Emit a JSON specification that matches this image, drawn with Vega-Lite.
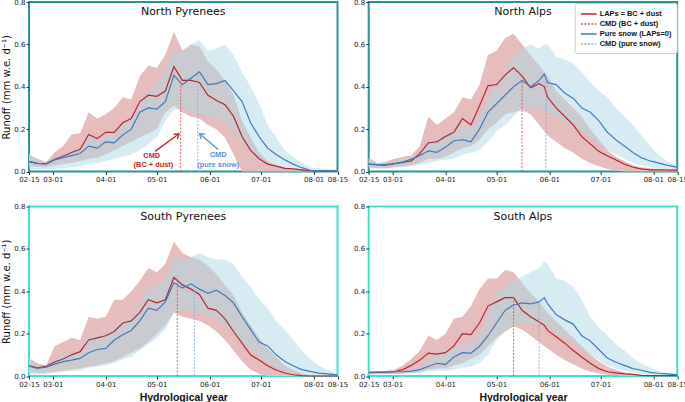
{
  "$schema": "https://vega.github.io/schema/vega-lite/v6.json",
  "background": "white",
  "padding": {"left": 0, "top": -3, "right": 0, "bottom": 0},
  "config": {
    "font": "DejaVu Sans",
    "axis": {"domain": false, "grid": false, "tickSize": 3, "tickColor": "#333", "labelColor": "#222", "labelFontSize": 7, "labelPadding": 1, "labelOverlap": false, "labelFlush": false, "labelBound": false, "titleFontWeight": "normal", "titleColor": "#111"},
    "axisX": {"titleFont": "Liberation Sans", "titleFontWeight": "bold", "titleFontSize": 10.5, "titlePadding": 5},
    "axisY": {"titleFontSize": 10, "titlePadding": 2},
    "legend": {"orient": "top-right", "offset": 1, "title": null, "fillColor": "white", "strokeColor": "#cccccc", "cornerRadius": 2, "padding": 5, "labelFont": "Liberation Sans", "labelFontWeight": "bold", "labelFontSize": 7.4, "labelColor": "#111", "symbolType": "M-1.5,0L1.5,0", "symbolSize": 110, "symbolStrokeWidth": 1.5, "symbolOffset": 3, "labelOffset": 5, "rowPadding": 0},
    "title": {"fontSize": 11, "fontWeight": "normal", "anchor": "middle", "color": "#111", "offset": -19}
  },
  "datasets": {
    "NP": [
      {"d":"2021-02-15","r":0.047,"b":0.047,"rl":0.025,"rh":0.08,"bl":0.01,"bh":0.075},
      {"d":"2021-02-20","r":0.038,"b":0.038,"rl":0.022,"rh":0.06,"bl":0.01,"bh":0.05},
      {"d":"2021-02-25","r":0.037,"b":0.035,"rl":0.02,"rh":0.045,"bl":0.01,"bh":0.04},
      {"d":"2021-03-02","r":0.058,"b":0.055,"rl":0.03,"rh":0.09,"bl":0.012,"bh":0.07},
      {"d":"2021-03-07","r":0.072,"b":0.065,"rl":0.035,"rh":0.12,"bl":0.015,"bh":0.08},
      {"d":"2021-03-12","r":0.09,"b":0.075,"rl":0.04,"rh":0.175,"bl":0.02,"bh":0.1},
      {"d":"2021-03-17","r":0.105,"b":0.085,"rl":0.05,"rh":0.18,"bl":0.025,"bh":0.11},
      {"d":"2021-03-22","r":0.175,"b":0.12,"rl":0.06,"rh":0.28,"bl":0.035,"bh":0.17},
      {"d":"2021-03-27","r":0.155,"b":0.11,"rl":0.065,"rh":0.25,"bl":0.04,"bh":0.15},
      {"d":"2021-04-01","r":0.185,"b":0.14,"rl":0.08,"rh":0.27,"bl":0.05,"bh":0.17},
      {"d":"2021-04-06","r":0.185,"b":0.135,"rl":0.1,"rh":0.3,"bl":0.06,"bh":0.2},
      {"d":"2021-04-11","r":0.23,"b":0.172,"rl":0.12,"rh":0.35,"bl":0.07,"bh":0.22},
      {"d":"2021-04-16","r":0.25,"b":0.2,"rl":0.14,"rh":0.34,"bl":0.08,"bh":0.25},
      {"d":"2021-04-21","r":0.33,"b":0.28,"rl":0.16,"rh":0.45,"bl":0.1,"bh":0.32},
      {"d":"2021-04-26","r":0.36,"b":0.3,"rl":0.18,"rh":0.5,"bl":0.13,"bh":0.38},
      {"d":"2021-05-01","r":0.355,"b":0.295,"rl":0.2,"rh":0.49,"bl":0.16,"bh":0.42},
      {"d":"2021-05-06","r":0.38,"b":0.33,"rl":0.28,"rh":0.55,"bl":0.24,"bh":0.48},
      {"d":"2021-05-11","r":0.495,"b":0.455,"rl":0.31,"rh":0.66,"bl":0.29,"bh":0.58},
      {"d":"2021-05-16","r":0.43,"b":0.41,"rl":0.28,"rh":0.57,"bl":0.3,"bh":0.56},
      {"d":"2021-05-21","r":0.43,"b":0.44,"rl":0.26,"rh":0.6,"bl":0.28,"bh":0.6},
      {"d":"2021-05-26","r":0.42,"b":0.47,"rl":0.25,"rh":0.59,"bl":0.27,"bh":0.62},
      {"d":"2021-05-31","r":0.36,"b":0.41,"rl":0.22,"rh":0.52,"bl":0.26,"bh":0.57},
      {"d":"2021-06-05","r":0.335,"b":0.415,"rl":0.2,"rh":0.48,"bl":0.25,"bh":0.58},
      {"d":"2021-06-10","r":0.315,"b":0.43,"rl":0.16,"rh":0.43,"bl":0.23,"bh":0.6},
      {"d":"2021-06-15","r":0.26,"b":0.38,"rl":0.08,"rh":0.36,"bl":0.19,"bh":0.55},
      {"d":"2021-06-20","r":0.165,"b":0.33,"rl":0,"rh":0.24,"bl":0.14,"bh":0.47},
      {"d":"2021-06-25","r":0.1,"b":0.23,"rl":0,"rh":0.16,"bl":0.09,"bh":0.4},
      {"d":"2021-06-30","r":0.06,"b":0.165,"rl":0,"rh":0.09,"bl":0.05,"bh":0.32},
      {"d":"2021-07-05","r":0.035,"b":0.11,"rl":0,"rh":0.05,"bl":0.03,"bh":0.22},
      {"d":"2021-07-10","r":0.025,"b":0.08,"rl":0,"rh":0.03,"bl":0.015,"bh":0.16},
      {"d":"2021-07-15","r":0.015,"b":0.055,"rl":0,"rh":0.02,"bl":0.008,"bh":0.1},
      {"d":"2021-07-20","r":0.012,"b":0.035,"rl":0,"rh":0.015,"bl":0.004,"bh":0.07},
      {"d":"2021-07-25","r":0.008,"b":0.018,"rl":0,"rh":0.01,"bl":0.002,"bh":0.04},
      {"d":"2021-07-30","r":0.003,"b":0.006,"rl":0,"rh":0.005,"bl":0,"bh":0.02},
      {"d":"2021-08-04","r":0.002,"b":0.003,"rl":0,"rh":0.004,"bl":0,"bh":0.015},
      {"d":"2021-08-09","r":0.002,"b":0.003,"rl":0,"rh":0.004,"bl":0,"bh":0.012},
      {"d":"2021-08-15","r":0.002,"b":0.003,"rl":0,"rh":0.004,"bl":0,"bh":0.01}
    ],
    "NA": [
      {"d":"2021-02-15","r":0.035,"b":0.035,"rl":0.02,"rh":0.065,"bl":0.015,"bh":0.06},
      {"d":"2021-02-20","r":0.031,"b":0.033,"rl":0.015,"rh":0.04,"bl":0.015,"bh":0.04},
      {"d":"2021-02-25","r":0.03,"b":0.033,"rl":0.015,"rh":0.045,"bl":0.015,"bh":0.04},
      {"d":"2021-03-02","r":0.037,"b":0.037,"rl":0.02,"rh":0.06,"bl":0.018,"bh":0.05},
      {"d":"2021-03-07","r":0.043,"b":0.045,"rl":0.025,"rh":0.07,"bl":0.02,"bh":0.06},
      {"d":"2021-03-12","r":0.05,"b":0.058,"rl":0.03,"rh":0.075,"bl":0.025,"bh":0.07},
      {"d":"2021-03-17","r":0.085,"b":0.075,"rl":0.04,"rh":0.12,"bl":0.03,"bh":0.09},
      {"d":"2021-03-22","r":0.135,"b":0.097,"rl":0.06,"rh":0.26,"bl":0.04,"bh":0.15},
      {"d":"2021-03-27","r":0.14,"b":0.09,"rl":0.06,"rh":0.22,"bl":0.05,"bh":0.16},
      {"d":"2021-04-01","r":0.165,"b":0.115,"rl":0.07,"rh":0.25,"bl":0.055,"bh":0.17},
      {"d":"2021-04-06","r":0.185,"b":0.145,"rl":0.09,"rh":0.28,"bl":0.06,"bh":0.2},
      {"d":"2021-04-11","r":0.25,"b":0.15,"rl":0.11,"rh":0.35,"bl":0.08,"bh":0.22},
      {"d":"2021-04-16","r":0.22,"b":0.14,"rl":0.12,"rh":0.34,"bl":0.09,"bh":0.21},
      {"d":"2021-04-21","r":0.31,"b":0.2,"rl":0.15,"rh":0.41,"bl":0.1,"bh":0.26},
      {"d":"2021-04-26","r":0.405,"b":0.28,"rl":0.2,"rh":0.55,"bl":0.14,"bh":0.35},
      {"d":"2021-05-01","r":0.41,"b":0.32,"rl":0.23,"rh":0.57,"bl":0.19,"bh":0.42},
      {"d":"2021-05-06","r":0.455,"b":0.36,"rl":0.27,"rh":0.63,"bl":0.22,"bh":0.47},
      {"d":"2021-05-11","r":0.49,"b":0.4,"rl":0.28,"rh":0.65,"bl":0.26,"bh":0.55},
      {"d":"2021-05-16","r":0.45,"b":0.43,"rl":0.29,"rh":0.6,"bl":0.3,"bh":0.58},
      {"d":"2021-05-21","r":0.395,"b":0.4,"rl":0.27,"rh":0.55,"bl":0.29,"bh":0.6},
      {"d":"2021-05-26","r":0.415,"b":0.43,"rl":0.22,"rh":0.5,"bl":0.3,"bh":0.58},
      {"d":"2021-05-29","r":0.4,"b":0.46,"rl":0.19,"rh":0.47,"bl":0.29,"bh":0.6},
      {"d":"2021-05-31","r":0.35,"b":0.42,"rl":0.17,"rh":0.45,"bl":0.28,"bh":0.6},
      {"d":"2021-06-05","r":0.3,"b":0.41,"rl":0.14,"rh":0.38,"bl":0.26,"bh":0.54},
      {"d":"2021-06-10","r":0.26,"b":0.37,"rl":0.11,"rh":0.34,"bl":0.24,"bh":0.53},
      {"d":"2021-06-15","r":0.22,"b":0.345,"rl":0.09,"rh":0.3,"bl":0.21,"bh":0.51},
      {"d":"2021-06-20","r":0.165,"b":0.3,"rl":0.06,"rh":0.26,"bl":0.19,"bh":0.47},
      {"d":"2021-06-25","r":0.13,"b":0.28,"rl":0.04,"rh":0.2,"bl":0.16,"bh":0.42},
      {"d":"2021-06-30","r":0.095,"b":0.24,"rl":0.025,"rh":0.15,"bl":0.13,"bh":0.38},
      {"d":"2021-07-05","r":0.074,"b":0.185,"rl":0.012,"rh":0.1,"bl":0.1,"bh":0.35},
      {"d":"2021-07-10","r":0.055,"b":0.15,"rl":0.005,"rh":0.07,"bl":0.08,"bh":0.3},
      {"d":"2021-07-15","r":0.035,"b":0.12,"rl":0,"rh":0.05,"bl":0.06,"bh":0.26},
      {"d":"2021-07-20","r":0.02,"b":0.09,"rl":0,"rh":0.03,"bl":0.04,"bh":0.22},
      {"d":"2021-07-25","r":0.012,"b":0.065,"rl":0,"rh":0.02,"bl":0.03,"bh":0.17},
      {"d":"2021-07-30","r":0.008,"b":0.05,"rl":0,"rh":0.015,"bl":0.02,"bh":0.12},
      {"d":"2021-08-04","r":0.008,"b":0.04,"rl":0,"rh":0.01,"bl":0.012,"bh":0.08},
      {"d":"2021-08-09","r":0.007,"b":0.03,"rl":0,"rh":0.01,"bl":0.008,"bh":0.05},
      {"d":"2021-08-15","r":0.006,"b":0.02,"rl":0,"rh":0.01,"bl":0.006,"bh":0.03}
    ],
    "SP": [
      {"d":"2021-02-15","r":0.048,"b":0.048,"rl":0.02,"rh":0.085,"bl":0.01,"bh":0.08},
      {"d":"2021-02-20","r":0.038,"b":0.036,"rl":0.015,"rh":0.06,"bl":0.008,"bh":0.05},
      {"d":"2021-02-25","r":0.045,"b":0.042,"rl":0.015,"rh":0.05,"bl":0.01,"bh":0.045},
      {"d":"2021-03-02","r":0.066,"b":0.056,"rl":0.02,"rh":0.14,"bl":0.015,"bh":0.08},
      {"d":"2021-03-07","r":0.08,"b":0.068,"rl":0.025,"rh":0.16,"bl":0.02,"bh":0.1},
      {"d":"2021-03-12","r":0.1,"b":0.075,"rl":0.03,"rh":0.18,"bl":0.022,"bh":0.11},
      {"d":"2021-03-17","r":0.115,"b":0.083,"rl":0.035,"rh":0.17,"bl":0.025,"bh":0.12},
      {"d":"2021-03-22","r":0.17,"b":0.11,"rl":0.045,"rh":0.28,"bl":0.04,"bh":0.2},
      {"d":"2021-03-27","r":0.18,"b":0.125,"rl":0.05,"rh":0.27,"bl":0.045,"bh":0.19},
      {"d":"2021-04-01","r":0.19,"b":0.13,"rl":0.06,"rh":0.28,"bl":0.05,"bh":0.2},
      {"d":"2021-04-06","r":0.21,"b":0.17,"rl":0.07,"rh":0.36,"bl":0.06,"bh":0.23},
      {"d":"2021-04-11","r":0.25,"b":0.195,"rl":0.09,"rh":0.36,"bl":0.08,"bh":0.27},
      {"d":"2021-04-16","r":0.26,"b":0.215,"rl":0.11,"rh":0.4,"bl":0.09,"bh":0.27},
      {"d":"2021-04-21","r":0.3,"b":0.26,"rl":0.13,"rh":0.45,"bl":0.12,"bh":0.34},
      {"d":"2021-04-26","r":0.36,"b":0.32,"rl":0.16,"rh":0.51,"bl":0.15,"bh":0.42},
      {"d":"2021-05-01","r":0.345,"b":0.31,"rl":0.2,"rh":0.49,"bl":0.18,"bh":0.43},
      {"d":"2021-05-06","r":0.36,"b":0.35,"rl":0.24,"rh":0.53,"bl":0.22,"bh":0.46},
      {"d":"2021-05-11","r":0.465,"b":0.44,"rl":0.3,"rh":0.635,"bl":0.3,"bh":0.57},
      {"d":"2021-05-16","r":0.43,"b":0.415,"rl":0.28,"rh":0.58,"bl":0.31,"bh":0.55},
      {"d":"2021-05-21","r":0.41,"b":0.435,"rl":0.27,"rh":0.56,"bl":0.31,"bh":0.56},
      {"d":"2021-05-26","r":0.385,"b":0.41,"rl":0.26,"rh":0.55,"bl":0.3,"bh":0.58},
      {"d":"2021-05-31","r":0.32,"b":0.39,"rl":0.24,"rh":0.52,"bl":0.29,"bh":0.56},
      {"d":"2021-06-05","r":0.31,"b":0.405,"rl":0.21,"rh":0.48,"bl":0.27,"bh":0.55},
      {"d":"2021-06-10","r":0.27,"b":0.38,"rl":0.17,"rh":0.43,"bl":0.24,"bh":0.55},
      {"d":"2021-06-15","r":0.21,"b":0.345,"rl":0.12,"rh":0.38,"bl":0.2,"bh":0.53},
      {"d":"2021-06-20","r":0.155,"b":0.28,"rl":0.07,"rh":0.3,"bl":0.16,"bh":0.47},
      {"d":"2021-06-25","r":0.1,"b":0.22,"rl":0.03,"rh":0.24,"bl":0.12,"bh":0.42},
      {"d":"2021-06-30","r":0.075,"b":0.16,"rl":0.01,"rh":0.18,"bl":0.09,"bh":0.36},
      {"d":"2021-07-05","r":0.048,"b":0.142,"rl":0,"rh":0.13,"bl":0.06,"bh":0.32},
      {"d":"2021-07-10","r":0.028,"b":0.1,"rl":0,"rh":0.09,"bl":0.04,"bh":0.26},
      {"d":"2021-07-15","r":0.014,"b":0.07,"rl":0,"rh":0.05,"bl":0.025,"bh":0.22},
      {"d":"2021-07-20","r":0.006,"b":0.048,"rl":0,"rh":0.03,"bl":0.015,"bh":0.17},
      {"d":"2021-07-25","r":0.002,"b":0.03,"rl":0,"rh":0.012,"bl":0.01,"bh":0.12},
      {"d":"2021-07-30","r":0,"b":0.022,"rl":0,"rh":0.005,"bl":0.005,"bh":0.08},
      {"d":"2021-08-04","r":0,"b":0.014,"rl":0,"rh":0.002,"bl":0.003,"bh":0.05},
      {"d":"2021-08-09","r":0,"b":0.01,"rl":0,"rh":0.001,"bl":0.003,"bh":0.03},
      {"d":"2021-08-15","r":0,"b":0.005,"rl":0,"rh":0,"bl":0.003,"bh":0.01}
    ],
    "SA": [
      {"d":"2021-02-15","r":0.016,"b":0.017,"rl":0.008,"rh":0.02,"bl":0.008,"bh":0.02},
      {"d":"2021-02-20","r":0.017,"b":0.018,"rl":0.008,"rh":0.022,"bl":0.008,"bh":0.02},
      {"d":"2021-02-25","r":0.018,"b":0.018,"rl":0.009,"rh":0.024,"bl":0.008,"bh":0.02},
      {"d":"2021-03-02","r":0.02,"b":0.02,"rl":0.01,"rh":0.03,"bl":0.008,"bh":0.022},
      {"d":"2021-03-07","r":0.03,"b":0.02,"rl":0.012,"rh":0.05,"bl":0.01,"bh":0.025},
      {"d":"2021-03-12","r":0.05,"b":0.023,"rl":0.015,"rh":0.08,"bl":0.012,"bh":0.03},
      {"d":"2021-03-17","r":0.075,"b":0.03,"rl":0.02,"rh":0.12,"bl":0.015,"bh":0.045},
      {"d":"2021-03-22","r":0.108,"b":0.045,"rl":0.03,"rh":0.19,"bl":0.02,"bh":0.08},
      {"d":"2021-03-27","r":0.103,"b":0.06,"rl":0.035,"rh":0.17,"bl":0.025,"bh":0.1},
      {"d":"2021-04-01","r":0.11,"b":0.055,"rl":0.035,"rh":0.2,"bl":0.025,"bh":0.11},
      {"d":"2021-04-06","r":0.142,"b":0.09,"rl":0.05,"rh":0.27,"bl":0.03,"bh":0.14},
      {"d":"2021-04-11","r":0.2,"b":0.11,"rl":0.06,"rh":0.28,"bl":0.04,"bh":0.15},
      {"d":"2021-04-16","r":0.195,"b":0.108,"rl":0.08,"rh":0.33,"bl":0.045,"bh":0.16},
      {"d":"2021-04-21","r":0.25,"b":0.14,"rl":0.1,"rh":0.41,"bl":0.06,"bh":0.2},
      {"d":"2021-04-26","r":0.33,"b":0.19,"rl":0.14,"rh":0.46,"bl":0.1,"bh":0.3},
      {"d":"2021-05-01","r":0.35,"b":0.25,"rl":0.18,"rh":0.46,"bl":0.17,"bh":0.39},
      {"d":"2021-05-06","r":0.37,"b":0.31,"rl":0.21,"rh":0.5,"bl":0.21,"bh":0.43},
      {"d":"2021-05-11","r":0.37,"b":0.335,"rl":0.235,"rh":0.49,"bl":0.24,"bh":0.45},
      {"d":"2021-05-16","r":0.31,"b":0.345,"rl":0.22,"rh":0.44,"bl":0.25,"bh":0.47},
      {"d":"2021-05-21","r":0.28,"b":0.34,"rl":0.19,"rh":0.39,"bl":0.25,"bh":0.49},
      {"d":"2021-05-26","r":0.255,"b":0.35,"rl":0.16,"rh":0.35,"bl":0.24,"bh":0.51},
      {"d":"2021-05-29","r":0.24,"b":0.37,"rl":0.14,"rh":0.32,"bl":0.24,"bh":0.54},
      {"d":"2021-05-31","r":0.215,"b":0.34,"rl":0.13,"rh":0.3,"bl":0.24,"bh":0.53},
      {"d":"2021-06-05","r":0.185,"b":0.29,"rl":0.1,"rh":0.26,"bl":0.2,"bh":0.46},
      {"d":"2021-06-10","r":0.155,"b":0.265,"rl":0.075,"rh":0.22,"bl":0.18,"bh":0.45},
      {"d":"2021-06-15","r":0.12,"b":0.245,"rl":0.055,"rh":0.18,"bl":0.16,"bh":0.42},
      {"d":"2021-06-20","r":0.09,"b":0.19,"rl":0.035,"rh":0.14,"bl":0.13,"bh":0.36},
      {"d":"2021-06-25","r":0.06,"b":0.165,"rl":0.02,"rh":0.1,"bl":0.1,"bh":0.28},
      {"d":"2021-06-30","r":0.035,"b":0.125,"rl":0.012,"rh":0.07,"bl":0.075,"bh":0.23},
      {"d":"2021-07-05","r":0.02,"b":0.085,"rl":0.006,"rh":0.045,"bl":0.05,"bh":0.19},
      {"d":"2021-07-10","r":0.015,"b":0.065,"rl":0.003,"rh":0.03,"bl":0.035,"bh":0.15},
      {"d":"2021-07-15","r":0.01,"b":0.05,"rl":0,"rh":0.018,"bl":0.025,"bh":0.12},
      {"d":"2021-07-20","r":0.008,"b":0.035,"rl":0,"rh":0.01,"bl":0.015,"bh":0.085},
      {"d":"2021-07-25","r":0.003,"b":0.027,"rl":0,"rh":0.005,"bl":0.01,"bh":0.06},
      {"d":"2021-07-30","r":0.002,"b":0.017,"rl":0,"rh":0.003,"bl":0.006,"bh":0.04},
      {"d":"2021-08-04","r":0.002,"b":0.013,"rl":0,"rh":0.003,"bl":0.004,"bh":0.025},
      {"d":"2021-08-09","r":0.002,"b":0.01,"rl":0,"rh":0.003,"bl":0.004,"bh":0.015},
      {"d":"2021-08-15","r":0.002,"b":0.005,"rl":0,"rh":0.003,"bl":0.004,"bh":0.01}
    ],
    "cmdNP": [{"s":"rc","d":"2021-05-15","z":0,"v":0.43},{"s":"bc","d":"2021-05-25","z":0,"v":0.475}],
    "cmdNA": [{"s":"rc","d":"2021-05-16","z":0,"v":0.43},{"s":"bc","d":"2021-05-30","z":0,"v":0.455}],
    "cmdSP": [{"s":"rc","d":"2021-05-13","z":0,"v":0.465},{"s":"bc","d":"2021-05-23","z":0,"v":0.43}],
    "cmdSA": [{"s":"rc","d":"2021-05-11","z":0,"v":0.373},{"s":"bc","d":"2021-05-26","z":0,"v":0.35}],
    "notes": [
      {"s":"red","t":"CMD","d":"2021-04-28","v":0.071},
      {"s":"red","t":"(BC + dust)","d":"2021-04-29","v":0.031},
      {"s":"blue","t":"CMD","d":"2021-06-06","v":0.076},
      {"s":"blue","t":"(pure snow)","d":"2021-06-06","v":0.033}
    ],
    "arrows": [
      {"s":"red","d":"2021-04-30","d2":"2021-05-14","v":0.095,"v2":0.178},
      {"s":"blue","d":"2021-06-06","d2":"2021-05-26","v":0.104,"v2":0.178}
    ]
  },
  "columns": 2,
  "spacing": {"row": 34.5, "column": 30.7},
  "bounds": "flush",
  "resolve": {"scale": {"color": "independent", "strokeDash": "independent"}, "legend": {"color": "independent", "strokeDash": "independent"}},
  "concat": [
    {
      "width": 308.5, "height": 169.5,
      "view": {"stroke": "#2a9494", "strokeWidth": 2},
      "title": {"text": "North Pyrenees"},
      "data": {"name": "NP"},
      "encoding": {"x": {"field": "d", "type": "temporal", "scale": {"type": "utc", "domain": [{"year": 2021, "month": 2, "date": 15, "utc": true}, {"year": 2021, "month": 8, "date": 15, "utc": true}]}, "axis": {"format": "%m-%d", "title": null, "values": [{"year": 2021, "month": 2, "date": 15, "utc": true}, {"year": 2021, "month": 3, "date": 1, "utc": true}, {"year": 2021, "month": 4, "date": 1, "utc": true}, {"year": 2021, "month": 5, "date": 1, "utc": true}, {"year": 2021, "month": 6, "date": 1, "utc": true}, {"year": 2021, "month": 7, "date": 1, "utc": true}, {"year": 2021, "month": 8, "date": 1, "utc": true}, {"year": 2021, "month": 8, "date": 15, "utc": true}]}}},
      "layer": [
        {"mark": {"type": "area", "color": "#e6bcbd"}, "encoding": {"y": {"field": "rl", "type": "quantitative", "scale": {"domain": [0, 0.8]}, "axis": {"values": [0, 0.1, 0.2, 0.3, 0.4, 0.5, 0.6, 0.7, 0.8], "format": ".1f", "title": "Runoff (mm w.e. d⁻¹)"}}, "y2": {"field": "rh"}}},
        {"mark": {"type": "area", "color": "#add8e6", "opacity": 0.5}, "encoding": {"y": {"field": "bl", "type": "quantitative"}, "y2": {"field": "bh"}}},
        {"mark": {"type": "line", "strokeWidth": 1.2, "color": "#b5262b"}, "encoding": {"y": {"field": "r", "type": "quantitative"}}},
        {"mark": {"type": "line", "strokeWidth": 1.2, "color": "#3b7bbf"}, "encoding": {"y": {"field": "b", "type": "quantitative"}}},
        {"data": {"name": "cmdNP"}, "transform": [{"filter": "datum.s === 'rc'"}], "mark": {"type": "rule", "strokeWidth": 0.9, "color": "#d05a5a", "strokeDash": [2, 1.5]}, "encoding": {"x": {"field": "d", "type": "temporal"}, "y": {"field": "z", "type": "quantitative"}, "y2": {"field": "v"}}},
        {"data": {"name": "cmdNP"}, "transform": [{"filter": "datum.s === 'bc'"}], "mark": {"type": "rule", "strokeWidth": 0.9, "color": "#7fb0e0", "strokeDash": [2, 1.5]}, "encoding": {"x": {"field": "d", "type": "temporal"}, "y": {"field": "z", "type": "quantitative"}, "y2": {"field": "v"}}},
        {"data": {"name": "arrows"}, "transform": [{"filter": "datum.s === 'red'"}], "mark": {"type": "rule", "color": "#c0262b", "strokeWidth": 1.3}, "encoding": {"x": {"field": "d", "type": "temporal"}, "x2": {"field": "d2"}, "y": {"field": "v", "type": "quantitative"}, "y2": {"field": "v2"}}},
        {"data": {"name": "arrows"}, "transform": [{"filter": "datum.s === 'red'"}], "mark": {"type": "point", "shape": "M-0.8,1.2L0,0L0.8,1.2", "filled": false, "strokeWidth": 1.3, "size": 60, "angle": 51, "color": "#c0262b", "opacity": 1}, "encoding": {"x": {"field": "d2", "type": "temporal"}, "y": {"field": "v2", "type": "quantitative"}}},
        {"data": {"name": "arrows"}, "transform": [{"filter": "datum.s === 'blue'"}], "mark": {"type": "rule", "color": "#5b8fd6", "strokeWidth": 1.3}, "encoding": {"x": {"field": "d", "type": "temporal"}, "x2": {"field": "d2"}, "y": {"field": "v", "type": "quantitative"}, "y2": {"field": "v2"}}},
        {"data": {"name": "arrows"}, "transform": [{"filter": "datum.s === 'blue'"}], "mark": {"type": "point", "shape": "M-0.8,1.2L0,0L0.8,1.2", "filled": false, "strokeWidth": 1.3, "size": 60, "angle": 308, "color": "#5b8fd6", "opacity": 1}, "encoding": {"x": {"field": "d2", "type": "temporal"}, "y": {"field": "v2", "type": "quantitative"}}},
        {"data": {"name": "notes"}, "transform": [{"filter": "datum.s === 'red'"}], "mark": {"type": "text", "font": "Liberation Sans", "fontWeight": "bold", "fontSize": 7.4, "color": "#c0262b", "baseline": "middle"}, "encoding": {"x": {"field": "d", "type": "temporal"}, "y": {"field": "v", "type": "quantitative"}, "text": {"field": "t"}}},
        {"data": {"name": "notes"}, "transform": [{"filter": "datum.s === 'blue'"}], "mark": {"type": "text", "font": "Liberation Sans", "fontWeight": "bold", "fontSize": 7.4, "color": "#5b8fd6", "baseline": "middle"}, "encoding": {"x": {"field": "d", "type": "temporal"}, "y": {"field": "v", "type": "quantitative"}, "text": {"field": "t"}}}
      ]
    },
    {
      "width": 308.5, "height": 169.5,
      "view": {"stroke": "#2a9494", "strokeWidth": 2},
      "title": {"text": "North Alps"},
      "data": {"name": "NA"},
      "encoding": {"x": {"field": "d", "type": "temporal", "scale": {"type": "utc", "domain": [{"year": 2021, "month": 2, "date": 15, "utc": true}, {"year": 2021, "month": 8, "date": 15, "utc": true}]}, "axis": {"format": "%m-%d", "title": null, "values": [{"year": 2021, "month": 2, "date": 15, "utc": true}, {"year": 2021, "month": 3, "date": 1, "utc": true}, {"year": 2021, "month": 4, "date": 1, "utc": true}, {"year": 2021, "month": 5, "date": 1, "utc": true}, {"year": 2021, "month": 6, "date": 1, "utc": true}, {"year": 2021, "month": 7, "date": 1, "utc": true}, {"year": 2021, "month": 8, "date": 1, "utc": true}, {"year": 2021, "month": 8, "date": 15, "utc": true}]}}},
      "layer": [
        {"mark": {"type": "area", "color": "#e6bcbd"}, "encoding": {"y": {"field": "rl", "type": "quantitative", "scale": {"domain": [0, 0.8]}, "axis": {"values": [0, 0.1, 0.2, 0.3, 0.4, 0.5, 0.6, 0.7, 0.8], "format": ".1f", "title": null}}, "y2": {"field": "rh"}}},
        {"mark": {"type": "area", "color": "#add8e6", "opacity": 0.5}, "encoding": {"y": {"field": "bl", "type": "quantitative"}, "y2": {"field": "bh"}}},
        {"transform": [{"fold": ["r", "b"], "as": ["s", "val"]}], "mark": {"type": "line", "strokeWidth": 1.2}, "encoding": {"y": {"field": "val", "type": "quantitative"}, "color": {"field": "s", "type": "nominal", "scale": {"domain": ["r", "rc", "b", "bc"], "range": ["#b5262b", "#d05a5a", "#3b7bbf", "#7fb0e0"]}, "legend": {"labelExpr": "datum.label === 'r' ? 'LAPs = BC + dust' : datum.label === 'rc' ? 'CMD (BC + dust)' : datum.label === 'b' ? 'Pure snow (LAPs=0)' : 'CMD (pure snow)'"}}, "strokeDash": {"field": "s", "type": "nominal", "scale": {"domain": ["r", "rc", "b", "bc"], "range": [[1, 0], [2, 1.5], [1, 0], [2, 1.5]]}, "legend": {"labelExpr": "datum.label === 'r' ? 'LAPs = BC + dust' : datum.label === 'rc' ? 'CMD (BC + dust)' : datum.label === 'b' ? 'Pure snow (LAPs=0)' : 'CMD (pure snow)'"}}}},
        {"data": {"name": "cmdNA"}, "mark": {"type": "rule", "strokeWidth": 0.9}, "encoding": {"x": {"field": "d", "type": "temporal"}, "y": {"field": "z", "type": "quantitative"}, "y2": {"field": "v"}, "color": {"field": "s", "type": "nominal"}, "strokeDash": {"field": "s", "type": "nominal"}}}
      ]
    },
    {
      "width": 308.5, "height": 169.5,
      "view": {"stroke": "#40e0d0", "strokeWidth": 2},
      "title": {"text": "South Pyrenees"},
      "data": {"name": "SP"},
      "encoding": {"x": {"field": "d", "type": "temporal", "scale": {"type": "utc", "domain": [{"year": 2021, "month": 2, "date": 15, "utc": true}, {"year": 2021, "month": 8, "date": 15, "utc": true}]}, "axis": {"format": "%m-%d", "title": "Hydrological year", "values": [{"year": 2021, "month": 2, "date": 15, "utc": true}, {"year": 2021, "month": 3, "date": 1, "utc": true}, {"year": 2021, "month": 4, "date": 1, "utc": true}, {"year": 2021, "month": 5, "date": 1, "utc": true}, {"year": 2021, "month": 6, "date": 1, "utc": true}, {"year": 2021, "month": 7, "date": 1, "utc": true}, {"year": 2021, "month": 8, "date": 1, "utc": true}, {"year": 2021, "month": 8, "date": 15, "utc": true}]}}},
      "layer": [
        {"mark": {"type": "area", "color": "#e6bcbd"}, "encoding": {"y": {"field": "rl", "type": "quantitative", "scale": {"domain": [0, 0.8]}, "axis": {"values": [0, 0.1, 0.2, 0.3, 0.4, 0.5, 0.6, 0.7, 0.8], "format": ".1f", "title": "Runoff (mm w.e. d⁻¹)"}}, "y2": {"field": "rh"}}},
        {"mark": {"type": "area", "color": "#add8e6", "opacity": 0.5}, "encoding": {"y": {"field": "bl", "type": "quantitative"}, "y2": {"field": "bh"}}},
        {"mark": {"type": "line", "strokeWidth": 1.2, "color": "#b5262b"}, "encoding": {"y": {"field": "r", "type": "quantitative"}}},
        {"mark": {"type": "line", "strokeWidth": 1.2, "color": "#3b7bbf"}, "encoding": {"y": {"field": "b", "type": "quantitative"}}},
        {"data": {"name": "cmdSP"}, "transform": [{"filter": "datum.s === 'rc'"}], "mark": {"type": "rule", "strokeWidth": 0.9, "color": "#d05a5a", "strokeDash": [2, 1.5]}, "encoding": {"x": {"field": "d", "type": "temporal"}, "y": {"field": "z", "type": "quantitative"}, "y2": {"field": "v"}}},
        {"data": {"name": "cmdSP"}, "transform": [{"filter": "datum.s === 'bc'"}], "mark": {"type": "rule", "strokeWidth": 0.9, "color": "#7fb0e0", "strokeDash": [2, 1.5]}, "encoding": {"x": {"field": "d", "type": "temporal"}, "y": {"field": "z", "type": "quantitative"}, "y2": {"field": "v"}}}
      ]
    },
    {
      "width": 308.5, "height": 169.5,
      "view": {"stroke": "#40e0d0", "strokeWidth": 2},
      "title": {"text": "South Alps"},
      "data": {"name": "SA"},
      "encoding": {"x": {"field": "d", "type": "temporal", "scale": {"type": "utc", "domain": [{"year": 2021, "month": 2, "date": 15, "utc": true}, {"year": 2021, "month": 8, "date": 15, "utc": true}]}, "axis": {"format": "%m-%d", "title": "Hydrological year", "values": [{"year": 2021, "month": 2, "date": 15, "utc": true}, {"year": 2021, "month": 3, "date": 1, "utc": true}, {"year": 2021, "month": 4, "date": 1, "utc": true}, {"year": 2021, "month": 5, "date": 1, "utc": true}, {"year": 2021, "month": 6, "date": 1, "utc": true}, {"year": 2021, "month": 7, "date": 1, "utc": true}, {"year": 2021, "month": 8, "date": 1, "utc": true}, {"year": 2021, "month": 8, "date": 15, "utc": true}]}}},
      "layer": [
        {"mark": {"type": "area", "color": "#e6bcbd"}, "encoding": {"y": {"field": "rl", "type": "quantitative", "scale": {"domain": [0, 0.8]}, "axis": {"values": [0, 0.1, 0.2, 0.3, 0.4, 0.5, 0.6, 0.7, 0.8], "format": ".1f", "title": null}}, "y2": {"field": "rh"}}},
        {"mark": {"type": "area", "color": "#add8e6", "opacity": 0.5}, "encoding": {"y": {"field": "bl", "type": "quantitative"}, "y2": {"field": "bh"}}},
        {"mark": {"type": "line", "strokeWidth": 1.2, "color": "#b5262b"}, "encoding": {"y": {"field": "r", "type": "quantitative"}}},
        {"mark": {"type": "line", "strokeWidth": 1.2, "color": "#3b7bbf"}, "encoding": {"y": {"field": "b", "type": "quantitative"}}},
        {"data": {"name": "cmdSA"}, "transform": [{"filter": "datum.s === 'rc'"}], "mark": {"type": "rule", "strokeWidth": 0.9, "color": "#d05a5a", "strokeDash": [2, 1.5]}, "encoding": {"x": {"field": "d", "type": "temporal"}, "y": {"field": "z", "type": "quantitative"}, "y2": {"field": "v"}}},
        {"data": {"name": "cmdSA"}, "transform": [{"filter": "datum.s === 'bc'"}], "mark": {"type": "rule", "strokeWidth": 0.9, "color": "#7fb0e0", "strokeDash": [2, 1.5]}, "encoding": {"x": {"field": "d", "type": "temporal"}, "y": {"field": "z", "type": "quantitative"}, "y2": {"field": "v"}}}
      ]
    }
  ]
}
